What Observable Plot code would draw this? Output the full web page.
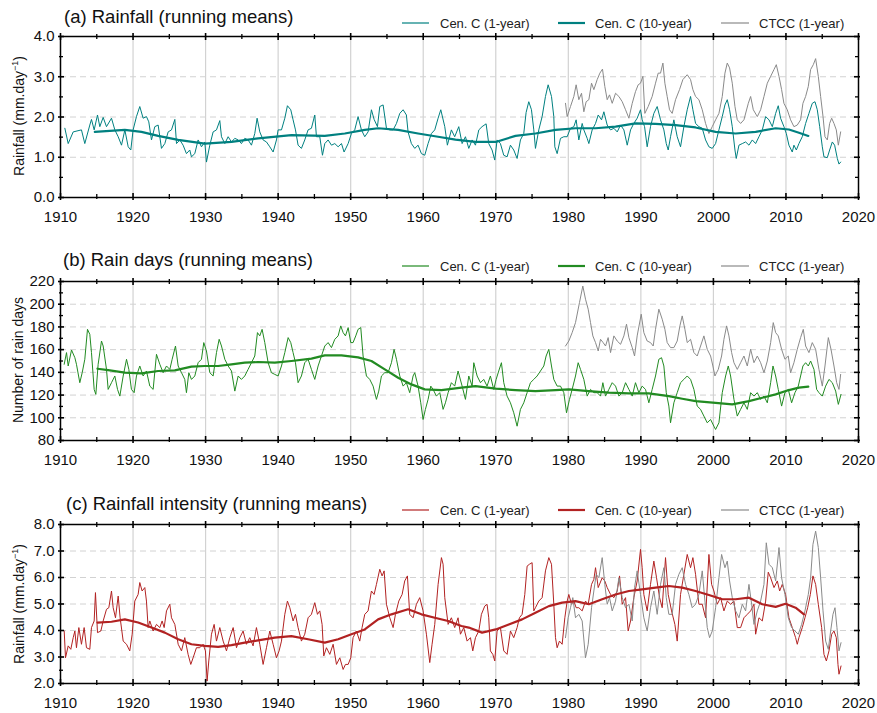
<!DOCTYPE html>
<html><head><meta charset="utf-8">
<script src="https://cdn.jsdelivr.net/npm/d3@7"></script>
<script src="https://cdn.jsdelivr.net/npm/@observablehq/plot@0.6"></script>
<style>
body{margin:0;background:#fff;font-family:"Liberation Sans",Arial,sans-serif;}
#root{position:relative;width:877px;height:713px;overflow:hidden;background:#fff;}
.svgwrap{position:absolute;left:0;}
.title{position:absolute;font-size:18.5px;color:#111;white-space:nowrap;line-height:1;transform:translateY(-50%);}
.leg{position:absolute;font-size:13px;color:#222;white-space:nowrap;line-height:1;transform:translateY(-50%);}
.legline{position:absolute;}
.ylab{position:absolute;font-size:14px;color:#111;white-space:nowrap;line-height:1;transform:translate(-50%,-50%) rotate(-90deg);}
.ylab sup{font-size:9px;vertical-align:6px;line-height:0;}
</style></head>
<body><div id="root"></div>
<script>
// ---------- tick values ----------
const xTickLabels = [1910,1920,1930,1940,1950,1960,1970,1980,1990,2000,2010,2020];
const xMinorTicks = [1915,1925,1935,1945,1955,1965,1975,1985,1995,2005,2015];
const yTicksA = [0,1,2,3,4];
const yMinorA = [0.5,1.5,2.5,3.5];
const yTicksB = [80,100,120,140,160,180,200,220];
const yMinorB = [90,110,130,150,170,190,210];
const yTicksC = [2,3,4,5,6,7,8];
const yMinorC = [2.5];

// ---------- (a) Rainfall, mm/day ----------
const rainCenC1 = [[1910.6,1.72],[1911.06,1.34],[1911.75,1.63],[1912.89,1.68],[1913.35,1.34],[1914.04,1.8],[1914.27,1.94],[1914.64,1.68],[1915.1,2.05],[1915.42,1.76],[1915.88,1.99],[1916.34,1.76],[1917.03,1.97],[1917.49,1.68],[1917.95,1.51],[1918.41,1.3],[1918.87,1.68],[1919.33,1.26],[1919.69,1.18],[1920.01,1.68],[1920.47,2.01],[1920.93,2.26],[1921.39,1.97],[1921.85,2.01],[1922.17,1.88],[1922.54,1.43],[1923.0,1.76],[1923.46,1.8],[1923.92,1.22],[1924.38,1.34],[1924.84,1.63],[1925.3,1.68],[1925.76,1.94],[1925.99,1.34],[1926.45,1.43],[1926.9,1.3],[1927.36,1.09],[1927.82,1.18],[1928.05,1.01],[1928.51,1.09],[1928.97,1.43],[1929.43,1.26],[1929.89,1.38],[1930.12,0.88],[1930.58,1.3],[1931.04,1.63],[1931.5,1.68],[1931.96,1.91],[1932.19,1.51],[1932.65,1.34],[1933.11,1.51],[1933.57,1.38],[1934.03,1.47],[1934.49,1.43],[1934.94,1.34],[1935.4,1.47],[1935.86,1.43],[1936.32,1.3],[1936.78,1.59],[1937.1,1.97],[1937.47,1.63],[1937.93,1.43],[1938.39,1.38],[1938.85,1.26],[1939.31,1.13],[1939.77,1.43],[1940.0,1.68],[1940.46,1.68],[1940.92,1.97],[1941.28,2.28],[1941.74,2.18],[1942.06,1.93],[1942.39,1.68],[1942.75,1.3],[1943.21,1.22],[1943.67,1.43],[1944.13,1.68],[1944.59,1.72],[1945.05,2.05],[1945.28,1.51],[1945.74,1.51],[1946.11,1.05],[1946.43,1.34],[1946.89,1.43],[1947.35,1.3],[1947.81,1.34],[1948.27,1.26],[1948.73,1.34],[1949.09,1.13],[1949.65,1.34],[1950.1,1.59],[1950.56,1.68],[1951.02,2.01],[1951.48,1.68],[1951.94,1.51],[1952.4,1.63],[1952.86,2.18],[1953.23,1.94],[1953.69,1.76],[1954.01,2.26],[1954.47,2.3],[1954.93,1.72],[1955.39,1.68],[1955.85,1.68],[1956.31,1.84],[1956.77,2.09],[1957.23,2.18],[1957.68,2.05],[1957.91,1.63],[1958.37,1.34],[1958.83,1.22],[1959.29,1.3],[1959.75,1.09],[1960.21,1.05],[1960.67,1.34],[1961.13,1.59],[1961.59,1.68],[1962.05,1.97],[1962.42,2.18],[1962.97,1.76],[1963.33,1.3],[1963.88,1.68],[1964.34,1.51],[1964.9,1.76],[1965.36,1.34],[1965.82,1.51],[1966.28,1.22],[1966.74,1.43],[1967.2,1.3],[1967.66,1.68],[1968.11,1.76],[1968.67,1.83],[1969.03,1.34],[1969.49,1.18],[1969.86,0.93],[1970.18,1.43],[1970.64,1.34],[1971.1,1.05],[1971.56,1.01],[1972.02,1.3],[1972.48,1.18],[1972.94,0.97],[1973.4,1.43],[1973.86,1.59],[1974.18,2.11],[1974.55,2.38],[1974.92,2.18],[1975.24,1.68],[1975.47,1.22],[1975.93,1.68],[1976.39,2.01],[1976.85,2.51],[1977.22,2.8],[1977.68,2.51],[1978.0,2.01],[1978.14,1.26],[1978.46,1.09],[1978.92,1.47],[1979.38,1.51],[1979.84,1.51],[1980.3,1.72],[1980.76,1.76],[1981.08,1.93],[1981.45,1.43],[1981.91,1.84],[1982.14,1.68],[1982.6,1.47],[1982.83,1.34],[1983.29,1.68],[1983.75,1.84],[1984.12,2.05],[1984.58,1.93],[1984.9,2.13],[1985.36,1.8],[1985.82,1.68],[1986.28,1.72],[1986.74,1.63],[1987.2,1.8],[1987.66,1.68],[1988.12,1.3],[1988.58,1.68],[1989.03,1.84],[1989.49,1.97],[1989.95,2.18],[1990.18,1.93],[1990.51,1.76],[1990.87,1.26],[1991.33,1.76],[1991.79,2.09],[1992.25,2.26],[1992.71,1.93],[1993.17,1.68],[1993.5,1.34],[1993.77,1.18],[1994.09,1.51],[1994.55,1.93],[1995.01,1.51],[1995.47,1.26],[1995.93,1.76],[1996.39,2.18],[1996.85,2.51],[1997.17,2.18],[1997.54,1.84],[1998.0,1.76],[1998.46,1.72],[1998.92,1.43],[1999.38,1.26],[1999.84,1.22],[2000.3,1.34],[2000.76,1.68],[2001.22,2.01],[2001.59,2.3],[2001.91,2.43],[2002.23,2.18],[2002.6,1.76],[2002.97,1.18],[2003.15,0.97],[2003.52,1.3],[2003.98,1.34],[2004.44,1.38],[2004.9,1.3],[2005.36,1.43],[2005.82,1.34],[2006.28,1.51],[2006.74,1.68],[2007.2,2.01],[2007.66,1.93],[2008.12,1.76],[2008.58,2.09],[2008.94,2.28],[2009.26,1.97],[2009.72,1.76],[2010.05,1.59],[2010.41,1.3],[2010.87,1.13],[2011.1,1.3],[2011.43,1.18],[2011.79,1.34],[2012.25,1.51],[2012.71,1.84],[2013.17,2.09],[2013.63,2.34],[2014.0,2.38],[2014.32,2.18],[2014.65,1.76],[2015.01,1.26],[2015.24,1.01],[2015.7,0.99],[2016.02,1.18],[2016.39,1.38],[2016.71,1.3],[2017.08,0.97],[2017.31,0.83],[2017.54,0.88]];
const rainCenC10 = [[1914.73,1.63],[1918.87,1.68],[1921.16,1.63],[1923.46,1.53],[1926.22,1.43],[1929.89,1.34],[1933.57,1.38],[1937.24,1.47],[1941.83,1.55],[1946.43,1.53],[1949.19,1.59],[1951.94,1.68],[1953.78,1.72],[1956.54,1.68],[1959.29,1.59],[1962.05,1.51],[1964.44,1.44],[1967.2,1.38],[1970.0,1.38],[1972.71,1.53],[1975.47,1.59],[1978.23,1.68],[1980.99,1.72],[1983.75,1.72],[1986.51,1.76],[1989.26,1.84],[1992.02,1.83],[1994.78,1.8],[1997.54,1.74],[2000.3,1.63],[2003.06,1.59],[2005.82,1.63],[2008.58,1.72],[2010.41,1.69],[2011.79,1.61],[2013.08,1.53]];
const rainCTCC = [[1979.61,2.34],[1979.84,2.01],[1980.3,2.26],[1980.76,2.51],[1981.08,2.8],[1981.45,2.43],[1981.82,2.59],[1982.14,2.13],[1982.46,2.38],[1982.83,2.43],[1983.2,2.84],[1983.52,2.68],[1983.98,2.93],[1984.35,3.09],[1984.71,3.19],[1985.03,2.76],[1985.36,2.43],[1985.68,2.55],[1986.05,2.34],[1986.51,2.59],[1986.97,2.51],[1987.43,2.38],[1987.89,2.18],[1988.35,1.97],[1988.81,2.34],[1989.26,2.63],[1989.63,2.8],[1989.95,2.84],[1990.28,3.01],[1990.55,2.09],[1991.01,2.26],[1991.56,2.51],[1992.02,2.84],[1992.39,3.09],[1992.71,3.09],[1993.04,3.34],[1993.31,2.84],[1993.63,2.51],[1993.95,2.18],[1994.32,2.09],[1994.78,2.43],[1995.33,2.68],[1995.79,2.93],[1996.39,3.05],[1996.85,2.93],[1997.17,2.68],[1997.54,2.51],[1998.0,2.43],[1998.46,2.18],[1998.92,1.84],[1999.38,1.59],[1999.84,1.76],[2000.3,1.93],[2000.76,2.09],[2001.22,2.51],[2001.59,3.09],[2001.91,3.34],[2002.23,3.22],[2002.6,2.84],[2002.97,2.26],[2003.29,1.93],[2003.75,1.84],[2004.21,1.93],[2004.81,2.34],[2005.13,2.51],[2005.5,2.18],[2006.05,2.01],[2006.51,2.18],[2006.97,2.51],[2007.43,2.84],[2007.89,3.01],[2008.35,3.18],[2008.67,3.3],[2009.04,3.01],[2009.4,2.68],[2009.72,2.34],[2010.18,2.18],[2010.64,1.93],[2011.1,1.76],[2011.56,1.8],[2012.02,1.93],[2012.34,2.34],[2012.71,2.51],[2013.08,2.76],[2013.4,3.18],[2013.77,3.3],[2014.09,3.45],[2014.46,3.01],[2014.78,2.51],[2015.11,2.01],[2015.38,1.51],[2015.7,1.43],[2016.02,1.84],[2016.3,1.97],[2016.62,1.84],[2016.94,1.68],[2017.22,1.3],[2017.54,1.63]];

// ---------- (b) Rain days ----------
const daysCenC1 = [[1910.51,147.1],[1910.83,157.4],[1911.06,145.6],[1911.52,159.7],[1911.98,152.9],[1912.2,147.1],[1912.66,130.9],[1912.99,139.7],[1913.35,151.5],[1913.72,177.9],[1914.04,173.5],[1914.27,157.4],[1914.64,125],[1914.87,120.6],[1915.19,147.1],[1915.65,167.6],[1915.88,163.2],[1916.34,142.6],[1916.57,125],[1917.03,130.9],[1917.49,136.8],[1917.86,125],[1918.18,119.1],[1918.64,136.8],[1919.1,151.5],[1919.42,142.6],[1919.78,125],[1920.15,122.1],[1920.47,136.8],[1920.93,145.6],[1921.39,136.8],[1921.85,141.2],[1922.31,127.9],[1922.77,125],[1923.23,155.9],[1923.69,147.1],[1924.15,139.7],[1924.61,145.6],[1925.07,142.6],[1925.39,151.5],[1925.85,163.2],[1926.22,145.6],[1926.68,139.7],[1927.13,133.8],[1927.36,122.1],[1927.69,139.7],[1928.05,133.8],[1928.51,136.8],[1928.97,148.5],[1929.43,151.5],[1929.75,166.2],[1930.12,158.8],[1930.58,139.7],[1931.04,136.8],[1931.5,157.4],[1931.87,169.1],[1932.19,163.2],[1932.65,151.5],[1933.11,145.6],[1933.57,141.2],[1934.03,123.5],[1934.49,136.8],[1934.94,133.8],[1935.4,136.8],[1935.86,142.6],[1936.32,148.5],[1936.78,154.4],[1937.15,175],[1937.47,172.1],[1937.79,177.9],[1938.16,166.2],[1938.62,148.5],[1939.08,139.7],[1939.54,138.2],[1940.0,136.8],[1940.46,145.6],[1940.92,157.4],[1941.38,170.6],[1941.74,166.2],[1942.06,157.4],[1942.39,148.5],[1942.75,130.9],[1943.21,136.8],[1943.67,148.5],[1944.13,151.5],[1944.59,142.6],[1945.05,133.8],[1945.51,145.6],[1945.97,154.4],[1946.43,163.2],[1946.89,166.2],[1947.35,161.8],[1947.81,169.1],[1948.27,172.1],[1948.63,180.9],[1948.96,175],[1949.28,172.1],[1949.65,179.4],[1950.01,166.2],[1950.33,166.2],[1950.7,172.1],[1951.02,177.9],[1951.39,179.4],[1951.71,154.4],[1952.17,136.8],[1952.63,133.8],[1953.09,127.9],[1953.55,116.2],[1953.87,123.5],[1954.24,136.8],[1954.7,139.7],[1955.16,139.7],[1955.62,148.5],[1955.98,160.3],[1956.31,151.5],[1956.77,136.8],[1957.23,127.9],[1957.68,130.9],[1958.14,122.1],[1958.6,136.8],[1958.83,139.7],[1959.29,127.9],[1959.66,113.2],[1959.98,98.5],[1960.3,107.4],[1960.67,116.2],[1961.04,127.9],[1961.36,125],[1961.82,119.1],[1962.28,122.1],[1962.74,107.4],[1963.06,113.2],[1963.43,122.1],[1963.88,130.9],[1964.34,127.9],[1964.8,141.2],[1965.36,127.9],[1965.82,116.2],[1966.28,136.8],[1966.74,127.9],[1966.97,148.5],[1967.43,136.8],[1967.89,130.9],[1968.34,133.8],[1968.8,127.9],[1969.26,136.8],[1969.72,125],[1970.05,133.8],[1970.41,141.2],[1970.78,148.5],[1971.1,130.9],[1971.56,119.1],[1972.02,113.2],[1972.48,104.4],[1972.94,92.6],[1973.4,107.4],[1973.86,113.2],[1974.32,122.1],[1974.78,130.9],[1975.24,133.8],[1975.7,136.8],[1976.16,141.2],[1976.62,145.6],[1976.94,154.4],[1977.31,160.3],[1977.68,145.6],[1978.0,133.8],[1978.46,127.9],[1978.92,127.9],[1979.38,122.1],[1979.75,104.4],[1980.16,116.2],[1980.53,125],[1980.99,136.8],[1981.36,148.5],[1981.68,142.6],[1982.14,133.8],[1982.6,119.1],[1983.06,125],[1983.52,122.1],[1983.98,122.1],[1984.44,119.1],[1984.76,130.9],[1985.13,119.1],[1985.59,125],[1986.05,130.9],[1986.51,127.9],[1986.97,119.1],[1987.43,122.1],[1987.89,130.9],[1988.35,125],[1988.81,119.1],[1989.26,130.9],[1989.72,122.1],[1990.18,127.9],[1990.64,125],[1991.1,113.2],[1991.56,125],[1992.02,136.8],[1992.48,151.5],[1992.85,152.9],[1993.17,145.6],[1993.5,122.1],[1993.86,110.3],[1994.09,95.6],[1994.55,113.2],[1995.01,122.1],[1995.47,130.9],[1995.93,133.8],[1996.39,136.8],[1996.85,133.8],[1997.31,125],[1997.77,110.3],[1998.23,107.4],[1998.69,101.5],[1999.15,95.6],[1999.61,98.5],[2000.07,92.6],[2000.3,89.7],[2000.76,95.6],[2001.22,122.1],[2001.68,136.8],[2002.05,145.6],[2002.37,136.8],[2002.83,116.2],[2003.29,101.5],[2003.75,107.4],[2004.21,113.2],[2004.67,107.4],[2005.13,122.1],[2005.59,119.1],[2006.05,122.1],[2006.51,116.2],[2006.97,119.1],[2007.43,113.2],[2007.89,130.9],[2008.21,145.6],[2008.58,136.8],[2008.94,125],[2009.4,110.3],[2009.86,122.1],[2010.32,125],[2010.78,113.2],[2011.24,122.1],[2011.7,127.9],[2012.02,136.8],[2012.34,145.6],[2012.71,148.5],[2013.08,145.6],[2013.4,150],[2013.86,142.6],[2014.23,125],[2014.55,122.1],[2015.01,119.1],[2015.47,127.9],[2015.93,133.8],[2016.39,130.9],[2016.85,123.5],[2017.22,111.8],[2017.59,120.6]];
const daysCenC10 = [[1915.1,143.2],[1916.57,142],[1918.87,139.7],[1921.16,139.1],[1923.46,141.2],[1925.76,141.8],[1928.05,145],[1929.89,145.6],[1931.73,145.6],[1933.57,147.1],[1935.4,148.5],[1937.24,149.1],[1939.54,148.5],[1941.83,150],[1944.59,152.1],[1946.43,155],[1948.73,155],[1951.02,153.2],[1952.86,150],[1954.7,142.6],[1956.54,135.3],[1958.37,129.4],[1960.21,125],[1962.51,124.4],[1965.26,126.5],[1967.2,127.9],[1970.0,125.6],[1972.71,124.4],[1975.47,123.5],[1978.23,124.4],[1980.07,125],[1982.83,123.5],[1985.59,122.1],[1988.35,121.5],[1991.1,121.5],[1993.86,119.1],[1995.7,116.8],[1997.54,114.7],[2000.3,113.2],[2002.6,111.8],[2004.9,114.7],[2006.74,117.6],[2008.58,120.6],[2010.41,124.4],[2011.79,126.5],[2013.08,127.4]];
const daysCTCC = [[1979.61,163.2],[1980.07,167.6],[1980.53,175],[1980.99,183.8],[1981.54,201.5],[1982.0,216],[1982.37,204.4],[1982.74,195.6],[1983.06,183.8],[1983.38,172.1],[1983.75,166.2],[1984.12,158.8],[1984.44,169.1],[1984.8,166.2],[1985.13,163.2],[1985.49,170.6],[1985.82,157.4],[1986.28,172.1],[1986.74,167.6],[1987.2,164.7],[1987.66,172.1],[1988.02,182.4],[1988.35,170.6],[1988.81,161.8],[1989.13,154.4],[1989.49,172.1],[1990.05,191.2],[1990.41,175],[1990.87,167.6],[1991.33,166.2],[1991.7,163.2],[1992.02,177.9],[1992.48,195.6],[1992.94,186.8],[1993.31,177.9],[1993.63,166.2],[1994.09,161.8],[1994.55,161.8],[1995.01,167.6],[1995.38,180.9],[1995.7,189.7],[1996.07,177.9],[1996.39,166.2],[1996.85,169.1],[1997.31,157.4],[1997.77,154.4],[1998.23,163.2],[1998.69,172.1],[1999.15,160.3],[1999.61,154.4],[1999.93,145.6],[2000.21,136.8],[2000.67,142.6],[2001.13,154.4],[2001.45,169.1],[2001.82,180.9],[2002.14,172.1],[2002.51,157.4],[2002.83,148.5],[2003.29,142.6],[2003.75,148.5],[2004.21,154.4],[2004.67,145.6],[2005.13,160.3],[2005.59,148.5],[2006.05,154.4],[2006.51,148.5],[2006.97,139.7],[2007.43,150],[2007.89,166.2],[2008.25,183.8],[2008.58,175],[2008.94,172.1],[2009.4,160.3],[2009.86,151.5],[2010.32,154.4],[2010.64,139.7],[2011.1,148.5],[2011.56,160.3],[2012.02,170.6],[2012.39,177.9],[2012.71,163.2],[2013.17,157.4],[2013.63,166.2],[2014.09,160.3],[2014.55,142.6],[2015.01,127.9],[2015.38,145.6],[2015.84,170.6],[2016.21,160.3],[2016.62,145.6],[2016.99,130.9],[2017.31,125],[2017.54,138.2]];

// ---------- (c) Rainfall intensity ----------
const intCenC1 = [[1910.51,3.98],[1910.69,2.97],[1911.06,3.42],[1911.42,3.29],[1911.75,3.73],[1911.98,3.98],[1912.2,3.35],[1912.53,4.11],[1912.89,3.48],[1913.26,4.11],[1913.58,3.35],[1914.04,3.29],[1914.27,4.11],[1914.64,4.36],[1914.82,5.43],[1915.1,3.92],[1915.56,3.98],[1915.88,4.36],[1916.34,4.8],[1916.66,4.86],[1917.03,5.49],[1917.26,4.86],[1917.58,4.48],[1917.95,5.3],[1918.22,4.48],[1918.64,3.6],[1919.1,3.48],[1919.55,3.23],[1919.88,3.86],[1920.24,5.11],[1920.7,5.36],[1920.93,5.81],[1921.25,5.49],[1921.62,5.62],[1921.85,5.11],[1922.08,4.11],[1922.31,4.36],[1922.77,3.98],[1923.23,4.23],[1923.69,4.11],[1924.01,4.36],[1924.29,4.11],[1924.61,4.74],[1925.07,4.99],[1925.3,4.48],[1925.76,4.23],[1926.22,3.48],[1926.68,3.23],[1927.13,3.73],[1927.59,3.1],[1927.96,2.72],[1928.28,2.97],[1928.74,3.35],[1929.2,3.35],[1929.66,3.48],[1929.98,3.23],[1930.21,2.09],[1930.44,2.85],[1930.81,3.86],[1931.18,4.23],[1931.5,3.6],[1931.96,4.11],[1932.42,3.6],[1932.88,3.23],[1933.34,3.73],[1933.8,4.11],[1934.26,3.35],[1934.72,3.73],[1935.17,3.98],[1935.63,3.48],[1936.09,3.73],[1936.55,3.42],[1937.01,4.11],[1937.47,3.48],[1937.93,2.72],[1938.39,3.35],[1938.85,3.98],[1939.31,3.48],[1939.77,2.97],[1940.13,3.23],[1940.46,3.6],[1940.92,4.61],[1941.28,5.11],[1941.61,4.86],[1942.06,4.36],[1942.39,4.61],[1942.75,4.11],[1943.21,3.6],[1943.67,3.86],[1944.13,4.48],[1944.59,4.61],[1945.05,5.05],[1945.42,4.61],[1945.74,4.74],[1946.06,4.23],[1946.29,3.04],[1946.66,3.35],[1947.12,3.1],[1947.58,3.48],[1948.04,2.72],[1948.5,2.97],[1948.96,2.53],[1949.28,2.72],[1949.65,2.72],[1950.01,2.97],[1950.33,3.73],[1950.79,3.98],[1951.25,3.6],[1951.57,4.11],[1951.94,4.61],[1952.4,4.74],[1952.86,5.49],[1953.23,5.36],[1953.55,5.74],[1954.01,6.31],[1954.33,6.06],[1954.61,6.25],[1954.93,4.99],[1955.39,4.48],[1955.85,4.11],[1956.17,4.61],[1956.63,5.11],[1957.09,5.36],[1957.45,5.87],[1957.82,6.06],[1958.14,4.61],[1958.6,4.48],[1959.06,4.99],[1959.52,5.24],[1959.98,4.74],[1960.44,3.86],[1960.9,2.79],[1961.22,3.48],[1961.59,4.23],[1962.05,5.74],[1962.51,6.75],[1962.74,6.5],[1962.97,5.24],[1963.43,4.23],[1963.88,4.48],[1964.34,4.11],[1964.8,4.48],[1965.13,3.86],[1965.59,4.11],[1966.05,3.6],[1966.51,3.73],[1966.83,3.23],[1967.2,3.73],[1967.66,3.98],[1968.02,4.61],[1968.48,4.92],[1968.8,4.99],[1969.03,4.48],[1969.26,3.23],[1969.59,3.1],[1969.86,2.85],[1970.18,3.98],[1970.64,4.11],[1971.1,3.23],[1971.56,3.1],[1972.02,3.98],[1972.48,3.73],[1972.94,4.11],[1973.26,4.48],[1973.63,4.61],[1974.0,5.36],[1974.32,6.43],[1974.64,6.5],[1975.01,6.56],[1975.24,4.74],[1975.47,4.86],[1975.93,5.11],[1976.39,5.24],[1976.85,6.25],[1977.31,6.75],[1977.68,6.5],[1978.0,4.99],[1978.23,3.73],[1978.46,3.35],[1978.78,3.6],[1979.15,3.48],[1979.52,4.48],[1979.84,5.11],[1980.07,5.36],[1980.44,4.99],[1980.76,5.11],[1981.08,4.86],[1981.45,4.86],[1981.91,4.74],[1982.37,5.11],[1982.74,4.99],[1983.2,5.74],[1983.52,5.93],[1983.75,6.37],[1984.12,5.62],[1984.67,5.99],[1985.03,5.87],[1985.36,5.62],[1985.82,5.36],[1986.28,5.24],[1986.74,5.49],[1987.06,6.06],[1987.43,4.99],[1987.89,5.24],[1988.25,3.98],[1988.58,4.36],[1989.03,5.24],[1989.49,5.87],[1989.95,7.06],[1990.18,6.37],[1990.41,5.36],[1990.87,4.74],[1991.33,5.74],[1991.79,6.62],[1992.16,5.99],[1992.58,5.24],[1992.94,4.86],[1993.4,6.75],[1993.77,5.36],[1994.23,4.74],[1994.69,4.23],[1995.01,3.6],[1995.47,5.36],[1995.93,6.12],[1996.39,6.87],[1996.85,6.37],[1997.17,6.75],[1997.54,6.12],[1998.0,4.99],[1998.46,4.99],[1998.92,4.48],[1999.38,6.87],[1999.75,5.74],[2000.07,5.49],[2000.53,4.99],[2000.99,5.24],[2001.45,4.74],[2001.91,5.11],[2002.37,4.99],[2002.83,5.11],[2003.29,4.11],[2003.75,4.11],[2004.21,4.48],[2004.67,4.61],[2005.13,4.74],[2005.59,4.99],[2005.82,3.86],[2006.28,4.48],[2006.74,4.36],[2007.2,5.11],[2007.56,6.2],[2007.89,5.99],[2008.35,5.62],[2008.81,5.87],[2009.13,5.49],[2009.49,5.74],[2009.95,5.36],[2010.41,4.48],[2010.87,4.11],[2011.33,3.73],[2011.56,3.48],[2011.79,3.73],[2012.25,4.11],[2012.62,4.48],[2012.99,4.86],[2013.36,5.36],[2013.72,6.06],[2014.09,5.74],[2014.46,4.99],[2014.92,4.11],[2015.24,3.1],[2015.57,2.85],[2015.93,3.23],[2016.3,3.86],[2016.62,3.98],[2016.94,3.73],[2017.17,2.72],[2017.31,2.35],[2017.59,2.66]];
const intCenC10 = [[1915.1,4.3],[1917.03,4.33],[1918.87,4.42],[1920.7,4.3],[1922.54,4.11],[1924.38,3.92],[1926.22,3.67],[1928.05,3.48],[1929.89,3.42],[1931.73,3.38],[1933.57,3.45],[1935.4,3.54],[1937.24,3.63],[1939.54,3.73],[1941.83,3.79],[1944.13,3.67],[1946.43,3.54],[1948.27,3.67],[1950.1,3.86],[1951.94,4.04],[1953.78,4.42],[1955.62,4.61],[1957.91,4.8],[1959.75,4.61],[1961.59,4.48],[1963.43,4.36],[1965.26,4.17],[1966.28,4.11],[1968.11,3.92],[1970.0,4.04],[1971.79,4.23],[1973.63,4.42],[1975.47,4.67],[1977.31,4.92],[1979.15,5.05],[1980.99,5.11],[1982.83,4.99],[1984.67,5.18],[1986.51,5.36],[1988.35,5.49],[1990.18,5.55],[1992.02,5.62],[1993.86,5.68],[1995.7,5.62],[1997.54,5.49],[1999.38,5.34],[2001.22,5.18],[2003.06,5.18],[2004.9,5.24],[2006.74,4.99],[2008.58,4.89],[2009.95,5.01],[2011.33,4.86],[2012.48,4.61]];
const intCTCC = [[1979.61,3.73],[1979.98,4.48],[1980.3,4.86],[1980.62,5.24],[1980.99,4.48],[1981.45,4.61],[1981.91,4.36],[1982.37,2.97],[1982.74,3.48],[1983.2,4.86],[1983.52,5.49],[1983.84,6.12],[1984.21,5.99],[1984.67,6.75],[1985.03,5.74],[1985.36,4.99],[1985.68,5.24],[1986.05,4.74],[1986.51,5.11],[1986.97,5.99],[1987.43,5.24],[1987.89,4.86],[1988.35,4.99],[1988.81,4.36],[1989.13,5.62],[1989.49,6.25],[1989.95,5.36],[1990.41,4.48],[1990.87,3.98],[1991.33,4.86],[1991.79,5.49],[1992.25,4.61],[1992.71,5.74],[1993.17,6.37],[1993.5,5.24],[1993.86,4.61],[1994.32,4.61],[1994.78,5.74],[1995.24,6.12],[1995.7,6.37],[1996.16,5.74],[1996.62,5.36],[1997.08,4.86],[1997.54,4.99],[1998.0,5.36],[1998.46,6.25],[1998.83,5.11],[1999.15,4.11],[1999.47,3.73],[1999.84,3.98],[2000.3,4.86],[2000.76,5.99],[2001.13,6.87],[2001.59,6.37],[2001.91,6.62],[2002.23,5.87],[2002.6,5.24],[2003.06,4.74],[2003.52,4.48],[2003.98,4.99],[2004.44,4.74],[2004.9,5.74],[2005.27,4.99],[2005.59,4.23],[2006.05,4.74],[2006.51,5.11],[2006.97,5.74],[2007.29,7.31],[2007.66,6.5],[2008.12,6.37],[2008.58,5.87],[2009.04,7.13],[2009.4,5.99],[2009.86,5.36],[2010.32,4.48],[2010.78,4.11],[2011.24,3.98],[2011.7,3.86],[2012.16,4.23],[2012.62,4.74],[2013.08,5.36],[2013.4,5.99],[2013.72,7.25],[2014.09,7.75],[2014.46,7.13],[2014.78,5.99],[2015.11,4.74],[2015.47,3.6],[2015.84,3.29],[2016.16,3.98],[2016.48,4.61],[2016.76,4.86],[2017.03,4.11],[2017.31,3.23],[2017.59,3.54]];

// ---------- text ----------
const titles = ["(a) Rainfall (running means)", "(b) Rain days (running means)", "(c) Rainfall intensity (running means)"];
const legendLabels = ["Cen. C (1-year)", "Cen. C (10-year)", "CTCC (1-year)"];
const colors = ["#008080", "#228b22", "#b22222"];
const ctccColor = "#8a8a8a";
const FONT = '"Liberation Sans", Arial, sans-serif';

const root = document.getElementById("root");

function makePanel(cfg) {
  const W = 877, mL = 60, mR = 19, mT = 10;
  const fH = cfg.height - mT - cfg.marginBottom, fW = W - mL - mR;
  const grid = "#d2d2d2";
  const X = d => d[0], Y = d => d[1];
  const svg = Plot.plot({
    width: W, height: cfg.height,
    marginLeft: mL, marginRight: mR, marginTop: mT, marginBottom: cfg.marginBottom,
    x: {domain: [1910, 2020], axis: null},
    y: {domain: cfg.yDomain, axis: null},
    style: {fontFamily: FONT, background: "white", color: "#111"},
    marks: [
      Plot.ruleX(xTickLabels.slice(1, -1), {x: d => d, stroke: grid, strokeWidth: 1.2}),
      Plot.ruleY(cfg.yTicks.slice(1, -1), {y: d => d, stroke: grid, strokeWidth: 1, strokeDasharray: "6,4"}),
      Plot.line(cfg.c1, {x: X, y: Y, stroke: cfg.color, strokeWidth: 1}),
      Plot.line(cfg.ctcc, {x: X, y: Y, stroke: ctccColor, strokeWidth: 1}),
      Plot.line(cfg.c10, {x: X, y: Y, stroke: cfg.color, strokeWidth: 2.2}),
      Plot.frame({stroke: "#000", strokeWidth: 1.5}),
      Plot.tickX(xTickLabels, {x: d => d, stroke: "#000", strokeWidth: 1.6, insetTop: fH - 4, insetBottom: -3}),
      Plot.tickX(xTickLabels, {x: d => d, stroke: "#000", strokeWidth: 1.6, insetBottom: fH - 4, insetTop: -3}),
      Plot.tickX(xMinorTicks, {x: d => d, stroke: "#000", strokeWidth: 1.3, insetTop: fH - 3, insetBottom: -2}),
      Plot.tickX(xMinorTicks, {x: d => d, stroke: "#000", strokeWidth: 1.3, insetBottom: fH - 3, insetTop: -2}),
      Plot.tickY(cfg.yTicks, {y: d => d, stroke: "#000", strokeWidth: 1.6, insetRight: fW - 4, insetLeft: -2}),
      Plot.tickY(cfg.yTicks, {y: d => d, stroke: "#000", strokeWidth: 1.6, insetLeft: fW - 4, insetRight: -2}),
      Plot.tickY(cfg.yMinor, {y: d => d, stroke: "#000", strokeWidth: 1.3, insetRight: fW - 3, insetLeft: -1}),
      Plot.tickY(cfg.yMinor, {y: d => d, stroke: "#000", strokeWidth: 1.3, insetLeft: fW - 3, insetRight: -1}),
      Plot.axisX(xTickLabels, {tickSize: 0, tickPadding: 14, tickFormat: d => String(d), fontSize: 15, label: null, fill: "#111"}),
      Plot.axisY(cfg.yTicks, {tickSize: 0, tickPadding: 6, tickFormat: cfg.fmt, fontSize: 15, label: null, fill: "#111"})
    ]
  });
  const wrap = document.createElement("div");
  wrap.className = "svgwrap";
  wrap.style.top = cfg.top + "px";
  wrap.appendChild(svg);
  root.appendChild(wrap);

  const t = document.createElement("div");
  t.className = "title";
  t.style.left = cfg.titleX + "px";
  t.style.top = cfg.titleY + "px";
  t.textContent = cfg.title;
  root.appendChild(t);

  const items = [
    {lx: 402, lw: 27, tx: 440, color: cfg.color, sw: 1.2, text: legendLabels[0]},
    {lx: 558, lw: 27, tx: 595, color: cfg.color, sw: 2.2, text: legendLabels[1]},
    {lx: 721, lw: 28, tx: 759, color: ctccColor, sw: 1.2, text: legendLabels[2]}
  ];
  for (const it of items) {
    const ln = document.createElementNS("http://www.w3.org/2000/svg", "svg");
    ln.setAttribute("width", it.lw); ln.setAttribute("height", 6);
    ln.setAttribute("class", "legline");
    ln.style.left = it.lx + "px"; ln.style.top = (cfg.legY - 3) + "px";
    const l = document.createElementNS("http://www.w3.org/2000/svg", "line");
    l.setAttribute("x1", 0); l.setAttribute("x2", it.lw); l.setAttribute("y1", 3); l.setAttribute("y2", 3);
    l.setAttribute("stroke", it.color); l.setAttribute("stroke-width", it.sw);
    ln.appendChild(l);
    root.appendChild(ln);
    const tx = document.createElement("div");
    tx.className = "leg";
    tx.style.left = it.tx + "px"; tx.style.top = cfg.legY + "px";
    tx.textContent = it.text;
    root.appendChild(tx);
  }

  const yl = document.createElement("div");
  yl.className = "ylab";
  yl.style.left = cfg.ylabX + "px";
  yl.style.top = cfg.ylabY + "px";
  yl.innerHTML = cfg.ylab;
  root.appendChild(yl);
}

makePanel({top: 26, height: 200, marginBottom: 29, yDomain: [0, 4], yTicks: yTicksA, yMinor: yMinorA,
  fmt: d => d.toFixed(1), color: colors[0], c1: rainCenC1, c10: rainCenC10, ctcc: rainCTCC,
  title: titles[0], titleX: 64, titleY: 17, legY: 22.5,
  ylab: "Rainfall (mm.day<sup>\u22121</sup>)", ylabX: 19, ylabY: 116});
makePanel({top: 271, height: 200, marginBottom: 31, yDomain: [80, 220], yTicks: yTicksB, yMinor: yMinorB,
  fmt: d => String(d), color: colors[1], c1: daysCenC1, c10: daysCenC10, ctcc: daysCTCC,
  title: titles[1], titleX: 63, titleY: 260, legY: 265.5,
  ylab: "Number of rain days", ylabX: 18, ylabY: 360});
makePanel({top: 514, height: 199, marginBottom: 30, yDomain: [2, 8], yTicks: yTicksC, yMinor: yMinorC,
  fmt: d => d.toFixed(1), color: colors[2], c1: intCenC1, c10: intCenC10, ctcc: intCTCC,
  title: titles[2], titleX: 66, titleY: 504, legY: 510,
  ylab: "Rainfall (mm.day<sup>\u22121</sup>)", ylabX: 19, ylabY: 604});
</script>
</body></html>
